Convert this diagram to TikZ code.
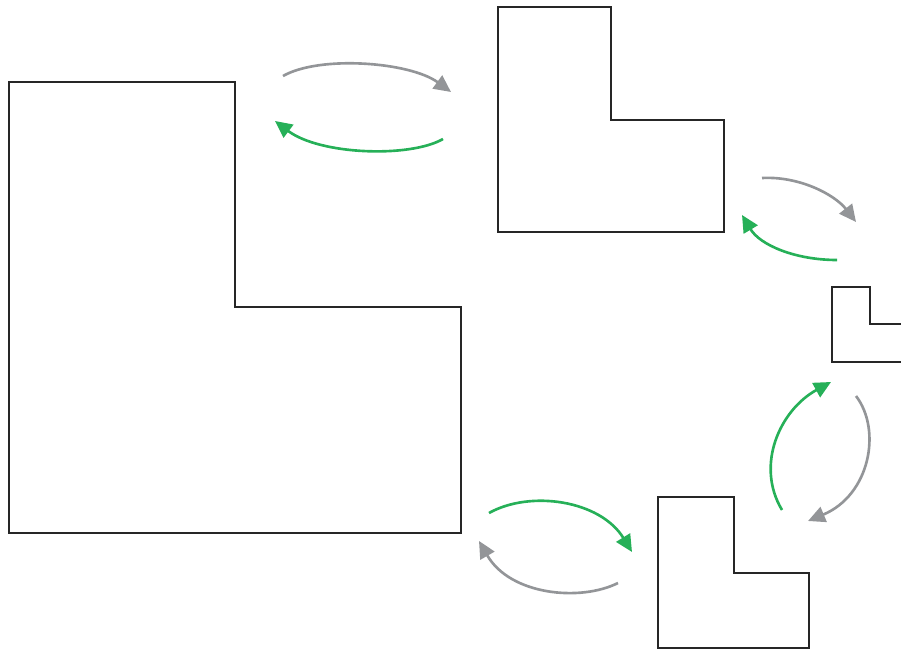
\documentclass[tikz,border=0pt]{standalone}
\usetikzlibrary{arrows.meta}

\definecolor{arrgrey}{RGB}{147,149,152}
\definecolor{arrgreen}{RGB}{38,176,88}

\begin{document}
\begin{tikzpicture}[
  x=0.02cm, y=-0.02cm,
  lshape/.style={draw=black!85, line width=1.1pt, line join=miter},
  turn/.style={line width=1.5pt, -{Triangle[length=0.34cm, width=0.32cm]}, draw=#1},
]
\useasboundingbox (0,0) rectangle (901,651);
\clip (0,0) rectangle (901,651);

%% L-shapes, large to small
\draw[lshape] (9,82) -- (235,82) -- (235,307) -- (461,307) -- (461,533) -- (9,533) -- cycle;
\draw[lshape] (498,7) -- (611,7) -- (611,120) -- (724,120) -- (724,232) -- (498,232) -- cycle;
\draw[lshape] (832,287) -- (870,287) -- (870,324) -- (910,324) -- (910,362) -- (832,362) -- cycle;
\draw[lshape] (658,497) -- (734,497) -- (734,573) -- (809,573) -- (809,648) -- (658,648) -- cycle;

%% arrow ends
\coordinate (g1s) at (283,76);  \coordinate (g1e) at (451,92);
\coordinate (v1s) at (443,139); \coordinate (v1e) at (275,121);
\coordinate (g2s) at (762,178); \coordinate (g2e) at (856,222);
\coordinate (v2s) at (837,260); \coordinate (v2e) at (742,215);
\coordinate (g3s) at (856,396); \coordinate (g3e) at (808,521);
\coordinate (v3s) at (782,510); \coordinate (v3e) at (831,382);
\coordinate (v4s) at (489,513); \coordinate (v4e) at (632,552);
\coordinate (g4s) at (618,583); \coordinate (g4e) at (479,541);

%% shrink / grow arrows
\draw[turn=arrgrey]  (g1s) .. controls (320,55) and (410,62) .. (g1e);
\draw[turn=arrgreen] (v1s) .. controls (410,158) and (320,155) .. (v1e);
\draw[turn=arrgrey]  (g2s) .. controls (800,176) and (835,195) .. (g2e);
\draw[turn=arrgreen] (v2s) .. controls (795,260) and (760,245) .. (v2e);
\draw[turn=arrgrey]  (g3s) .. controls (882,430) and (870,495) .. (g3e);
\draw[turn=arrgreen] (v3s) .. controls (755,465) and (780,410) .. (v3e);
\draw[turn=arrgreen] (v4s) .. controls (530,490) and (600,500) .. (v4e);
\draw[turn=arrgrey]  (g4s) .. controls (580,602) and (510,595) .. (g4e);

\end{tikzpicture}
\end{document}
